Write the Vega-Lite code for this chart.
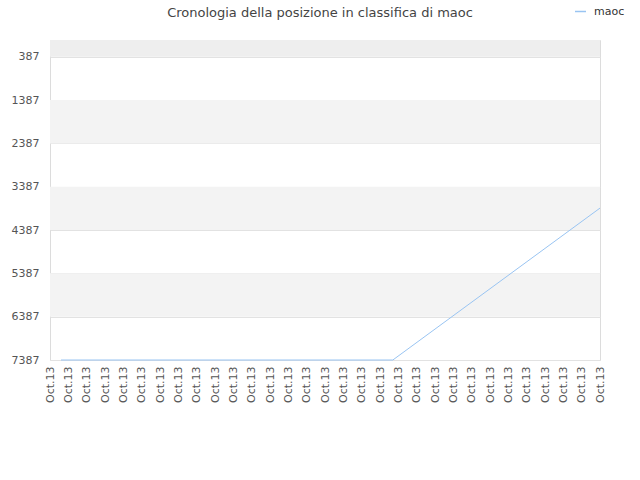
{
  "$schema": "https://vega.github.io/schema/vega-lite/v6.json",
  "width": 550,
  "height": 320,
  "padding": {"left": 50, "top": 40, "right": 40, "bottom": 120},
  "autosize": {"type": "none"},
  "background": "white",
  "config": {
    "view": {"stroke": "#dcdcdc", "strokeWidth": 1},
    "font": "DejaVu Sans"
  },
  "title": {
    "text": "Cronologia della posizione in classifica di maoc",
    "fontSize": 13,
    "fontWeight": "normal",
    "color": "#444444",
    "font": "DejaVu Sans",
    "offset": 22,
    "dy": 37,
    "dx": -5
  },
  "datasets": {
    "bands": [
      {"y0": 0, "y1": 387, "c": "top"},
      {"y0": 1387, "y1": 2387, "c": "alt"},
      {"y0": 3387, "y1": 4387, "c": "alt"},
      {"y0": 5387, "y1": 6387, "c": "alt"}
    ],
    "series": [
      {"t": 0.6, "rank": 7387, "player": "maoc"},
      {"t": 18.7, "rank": 7387, "player": "maoc"},
      {"t": 30, "rank": 3880, "player": "maoc"}
    ]
  },
  "layer": [
    {
      "data": {"name": "bands"},
      "mark": {"type": "rect"},
      "encoding": {
        "y": {"field": "y0", "type": "quantitative", "scale": {"domain": [0, 7387], "reverse": true, "nice": false, "zero": false}},
        "y2": {"field": "y1"},
        "fill": {"field": "c", "type": "nominal", "scale": {"domain": ["top", "alt"], "range": ["#eeeeee", "#f3f3f3"]}, "legend": null}
      }
    },
    {
      "data": {"name": "series"},
      "mark": {"type": "line", "strokeWidth": 1, "interpolate": "linear"},
      "encoding": {
        "x": {
          "field": "t", "type": "quantitative",
          "scale": {"domain": [0, 30], "nice": false, "zero": false},
          "axis": {
            "title": null,
            "values": [0,1,2,3,4,5,6,7,8,9,10,11,12,13,14,15,16,17,18,19,20,21,22,23,24,25,26,27,28,29,30],
            "labelExpr": "'Oct.13'",
            "labelAngle": -90,
            "labelAlign": "right",
            "labelBaseline": "middle",
            "labelFontSize": 11,
            "labelColor": "#555555",
            "labelPadding": 6,
            "ticks": false,
            "grid": false,
            "domain": false,
            "labelOverlap": false,
            "labelFlush": false
          }
        },
        "y": {
          "field": "rank", "type": "quantitative",
          "scale": {"domain": [0, 7387], "reverse": true, "nice": false, "zero": false},
          "axis": {
            "title": null,
            "values": [387, 1387, 2387, 3387, 4387, 5387, 6387, 7387],
            "format": "d",
            "grid": true,
            "gridColor": "#e2e2e2",
            "ticks": false,
            "domain": false,
            "labelFontSize": 11,
            "labelColor": "#555555",
            "labelPadding": 11,
            "labelFlush": false
          }
        },
        "color": {
          "field": "player", "type": "nominal",
          "scale": {"range": ["#99c4f2"]},
          "legend": {
            "title": null,
            "orient": "none",
            "legendX": 524,
            "legendY": -35,
            "symbolType": "stroke",
            "symbolSize": 120,
            "symbolStrokeWidth": 1.5,
            "labelFontSize": 11,
            "labelColor": "#333333",
            "labelOffset": 7
          }
        }
      }
    }
  ]
}
